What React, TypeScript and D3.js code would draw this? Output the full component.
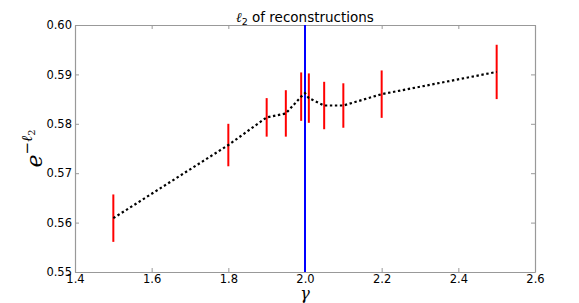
import React, { useEffect, useRef } from 'react';
import * as d3 from 'd3';

const gammas = [1.5, 1.8, 1.9, 1.95, 1.99, 2.0, 2.01, 2.05, 2.1, 2.2, 2.5];
const means = [0.5609, 0.5757, 0.5813, 0.5821, 0.5855, 0.5862, 0.5852, 0.5837, 0.5837, 0.5860, 0.5905];
const errs = [0.0048, 0.0043, 0.0039, 0.0047, 0.0049, 0.0046, 0.0050, 0.0048, 0.0045, 0.0048, 0.0055];
const xTicks = [1.4, 1.6, 1.8, 2.0, 2.2, 2.4, 2.6];
const yTicks = [0.55, 0.56, 0.57, 0.58, 0.59, 0.6];
const refGamma = 2.0;

export default function App() {
  const ref = useRef<SVGSVGElement>(null);

  useEffect(() => {
    const width = 579;
    const height = 303;
    const margin = { top: 25, right: 44, bottom: 31, left: 75 };
    const innerWidth = width - margin.left - margin.right;
    const innerHeight = height - margin.top - margin.bottom;

    const svg = d3.select(ref.current);
    svg.selectAll('*').remove();

    const g = svg.append('g').attr('transform', `translate(${margin.left}, ${margin.top})`);

    const xScale = d3.scaleLinear().domain([1.4, 2.6]).range([0, innerWidth]);
    const yScale = d3.scaleLinear().domain([0.55, 0.6]).range([innerHeight, 0]);

    const spine = '#999999';
    const font = 'DejaVu Sans, sans-serif';

    // axes with inward ticks
    const bottom = g.append('g').attr('transform', `translate(0, ${innerHeight})`)
      .call(d3.axisBottom(xScale).tickValues(xTicks).tickFormat(d3.format('.1f')).tickSizeInner(-4).tickSizeOuter(0).tickPadding(3));
    const top = g.append('g')
      .call(d3.axisTop(xScale).tickValues(xTicks).tickFormat(() => '').tickSizeInner(-4).tickSizeOuter(0));
    const left = g.append('g')
      .call(d3.axisLeft(yScale).tickValues(yTicks).tickFormat(d3.format('.2f')).tickSizeInner(-4).tickSizeOuter(0).tickPadding(3));
    const right = g.append('g').attr('transform', `translate(${innerWidth}, 0)`)
      .call(d3.axisRight(yScale).tickValues(yTicks).tickFormat(() => '').tickSizeInner(-4).tickSizeOuter(0));

    [bottom, top, left, right].forEach(a => {
      a.select('.domain').attr('stroke', spine).attr('stroke-width', 1.2);
      a.selectAll('.tick line').attr('stroke', spine);
      a.selectAll('.tick text').attr('fill', '#000').style('font-family', font).style('font-size', '11.5px');
    });

    // error bars
    g.selectAll('.err').data(gammas).join('line').attr('class', 'err')
      .attr('x1', d => xScale(d)).attr('x2', d => xScale(d))
      .attr('y1', (d, i) => yScale(means[i] + errs[i]))
      .attr('y2', (d, i) => yScale(means[i] - errs[i]))
      .attr('stroke', '#ff0000').attr('stroke-width', 2);

    // vertical reference line
    g.append('line')
      .attr('x1', xScale(refGamma)).attr('x2', xScale(refGamma))
      .attr('y1', 0).attr('y2', innerHeight)
      .attr('stroke', '#0000ff').attr('stroke-width', 2);

    // dotted mean line
    const line = d3.line<number>().x(d => xScale(d)).y((d, i) => yScale(means[i]));
    g.append('path').datum(gammas).attr('d', line)
      .attr('fill', 'none').attr('stroke', '#000').attr('stroke-width', 2.2)
      .attr('stroke-dasharray', '2.4,2.6');

    // title
    const title = svg.append('text')
      .attr('x', margin.left + innerWidth / 2).attr('y', 22)
      .attr('text-anchor', 'middle')
      .style('font-family', font).style('font-size', '13.5px');
    title.append('tspan').style('font-family', 'DejaVu Serif, serif').style('font-style', 'italic').text('ℓ');
    title.append('tspan').attr('dy', 3).style('font-size', '9.5px').text('2');
    title.append('tspan').attr('dy', -3).text(' of reconstructions');

    // y label
    const ylab = svg.append('text')
      .attr('transform', `translate(42, ${margin.top + innerHeight / 2}) rotate(-90)`)
      .attr('text-anchor', 'middle')
      .style('font-family', 'DejaVu Serif, serif').style('font-style', 'italic');
    ylab.append('tspan').style('font-size', '22px').text('e');
    ylab.append('tspan').attr('dy', -10).style('font-size', '15px').style('font-style', 'normal').text('−');
    ylab.append('tspan').style('font-size', '15px').text('ℓ');
    ylab.append('tspan').attr('dy', 3).style('font-size', '10px').style('font-style', 'normal').text('2');

    // x label
    svg.append('text')
      .attr('x', margin.left + xScale(refGamma)).attr('y', 299)
      .attr('text-anchor', 'middle')
      .style('font-family', 'DejaVu Serif, serif').style('font-style', 'italic').style('font-size', '16px')
      .text('γ');
  }, []);

  return (
    <svg ref={ref} width={579} height={303} style={{ position: 'absolute', left: 0, top: 0, background: '#fff' }} />
  );
}
